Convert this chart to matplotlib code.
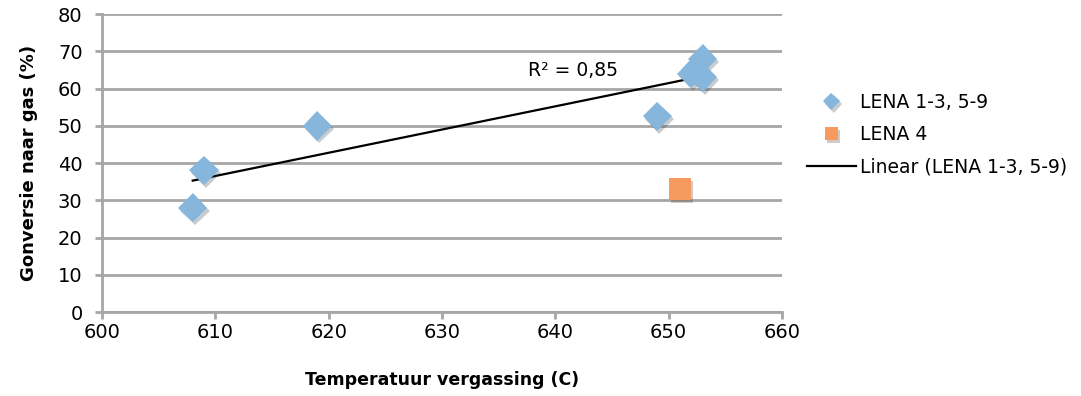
import numpy as np
import matplotlib.pyplot as plt
import matplotlib.patheffects as pe

# LENA 1-3, 5-9
temp_lena = [608, 609, 619, 649, 652, 653, 653]
conv_lena = [28, 38, 50, 52.5, 64, 63, 68]
# LENA 4
temp_lena4 = [651]
conv_lena4 = [33]

xticks = [600, 610, 620, 630, 640, 650, 660]
yticks = [0, 10, 20, 30, 40, 50, 60, 70, 80]

plt.rcParams['font.family'] = ['DejaVu Sans']

blue = '#86b6dc'
orange = '#f79a60'
grid_col = '#a6a6a6'
shadow = [pe.SimplePatchShadow(offset=(1.5, -2), alpha=0.25), pe.Normal()]

fig = plt.figure(figsize=(10.81, 3.96), dpi=100)
ax = fig.add_axes([0.0944, 0.212, 0.629, 0.7526])

# linear trend of LENA 1-3, 5-9
slope, icpt = np.polyfit(temp_lena, conv_lena, 1)
xs = np.array([min(temp_lena), max(temp_lena)])
ax.plot(xs, slope * xs + icpt, color='black', lw=1.6, zorder=3,
        label='Linear (LENA 1-3, 5-9)')

ax.plot(temp_lena, conv_lena, 'D', ms=15, color=blue, mec='none', zorder=4,
        path_effects=shadow, label='LENA 1-3, 5-9')
ax.plot(temp_lena4, conv_lena4, 's', ms=16, color=orange, mec='none', zorder=4,
        path_effects=shadow, label='LENA 4')

ax.text(637.6, 64.8, 'R² = 0,85', fontsize=13.5, va='center', ha='left')

ax.set_xlim(600, 660)
ax.set_ylim(0, 80)
ax.set_xticks(xticks)
ax.set_yticks(yticks)
ax.yaxis.grid(True, color=grid_col, lw=2)
ax.set_axisbelow(True)
for s in ['top', 'right']:
    ax.spines[s].set_visible(False)
for s in ['left', 'bottom']:
    ax.spines[s].set_color(grid_col)
    ax.spines[s].set_linewidth(2)
ax.tick_params(axis='both', colors=grid_col, width=2, length=5, labelsize=14,
               labelcolor='black')
ax.tick_params(axis='x', pad=3)
ax.tick_params(axis='y', pad=9)

ax.set_xlabel('Temperatuur vergassing (C)', fontsize=12.5, fontweight='bold', labelpad=21)
ax.set_ylabel('Gonversie naar gas (%)', fontsize=13, fontweight='bold', labelpad=14)

h, l = ax.get_legend_handles_labels()
order = [1, 2, 0]
leg = fig.legend([h[i] for i in order], [l[i] for i in order],
                 loc='center left', bbox_to_anchor=(0.731, 0.66),
                 frameon=False, fontsize=13.5, handlelength=2.6, handletextpad=0.2,
                 labelspacing=0.7, markerscale=0.6)

fig.savefig('out.png', dpi=100)
